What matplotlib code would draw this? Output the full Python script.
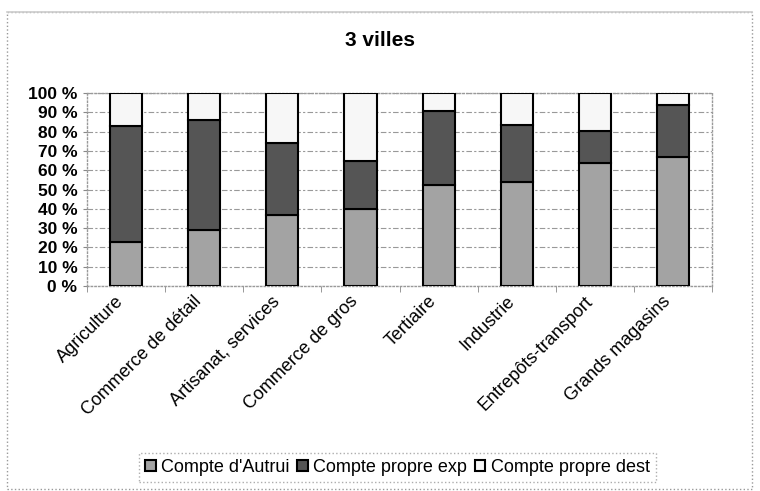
import numpy as np
import matplotlib
matplotlib.use("Agg")
import matplotlib.pyplot as plt
import matplotlib.transforms as mtransforms
from matplotlib.patches import Rectangle
from matplotlib.lines import Line2D
from matplotlib.ticker import FixedLocator, PercentFormatter

plt.rcParams["font.family"] = ["Liberation Sans", "DejaVu Sans"]

# données (en %)
categories = ["Agriculture", "Commerce de détail", "Artisanat, services",
              "Commerce de gros", "Tertiaire", "Industrie",
              "Entrepôts-transport", "Grands magasins"]
autrui = [23, 29, 37, 40, 52.5, 54, 63.5, 67]
propre_exp = [60, 57, 37, 25, 38, 29.5, 17, 27]
propre_dest = [17, 14, 26, 35, 9.5, 16.5, 19.5, 6]

fig = plt.figure(figsize=(7.6, 4.91), dpi=100)
ax = fig.add_axes([0.1145, 0.4175, 0.8225, 0.3931])

x = np.arange(len(categories))
w = 0.41
b1 = ax.bar(x, autrui, w, color="#a3a3a3", edgecolor="black", linewidth=1.5,
            label="Compte d'Autrui", zorder=3)
b2 = ax.bar(x, propre_exp, w, bottom=autrui, color="#555555", edgecolor="black",
            linewidth=1.5, label="Compte propre exp", zorder=3)
bottom2 = [a + b for a, b in zip(autrui, propre_exp)]
b3 = ax.bar(x, propre_dest, w, bottom=bottom2, color="#f7f7f7", edgecolor="black",
            linewidth=1.5, label="Compte propre dest", zorder=3)

ax.set_xlim(-0.5, len(categories) - 0.5)
ax.set_ylim(0, 100)
ax.set_yticks(np.arange(0, 101, 10))
ax.yaxis.set_major_formatter(PercentFormatter(decimals=0, symbol=" %"))
ax.tick_params(axis="y", labelsize=12.5, length=3, width=0.8, color="#888888", pad=4)
for t in ax.get_yticklabels():
    t.set_fontweight("bold")

ax.set_xticks(x)
ax.set_xticklabels(categories, rotation=45, ha="right", rotation_mode="anchor",
                   fontsize=13)
ax.tick_params(axis="x", which="major", length=0, pad=5)
# décaler un peu les étiquettes vers la gauche
shift = mtransforms.ScaledTranslation(-8 / 72, 0, fig.dpi_scale_trans)
for t in ax.get_xticklabels():
    t.set_transform(t.get_transform() + shift)
ax.xaxis.set_minor_locator(FixedLocator(np.arange(-0.5, len(categories), 1)))
ax.tick_params(axis="x", which="minor", length=4, color="#888888")

ax.grid(axis="y", color="#999999", linestyle=(0, (5, 2, 2, 2)), linewidth=0.8, zorder=0)
for s in ax.spines.values():
    s.set_color("#999999")
    s.set_linestyle(":")
    s.set_linewidth(1.0)

fig.text(0.5, 0.918, "3 villes", ha="center", va="center", fontsize=15,
         fontweight="bold")

leg = fig.legend(handles=[b1, b2, b3], loc="center", bbox_to_anchor=(0.523, 0.048),
                 ncol=3, fontsize=13, frameon=True, fancybox=False,
                 handlelength=0.6, handleheight=0.6, handletextpad=0.3,
                 columnspacing=0.4, borderpad=0.35)
leg.get_frame().set_edgecolor("#999999")
leg.get_frame().set_linestyle(":")
leg.get_frame().set_linewidth(1.0)

# cadre du graphique
fig.patches.append(Rectangle((0.009, 0.004), 0.981, 0.972, transform=fig.transFigure,
                             fill=False, edgecolor="#999999", linestyle=":",
                             linewidth=1.0))
fig.lines.append(Line2D([0.009, 0.99], [0.976, 0.976], transform=fig.transFigure,
                        color="#cccccc", linewidth=1.2))

fig.savefig("out.png", dpi=100)
